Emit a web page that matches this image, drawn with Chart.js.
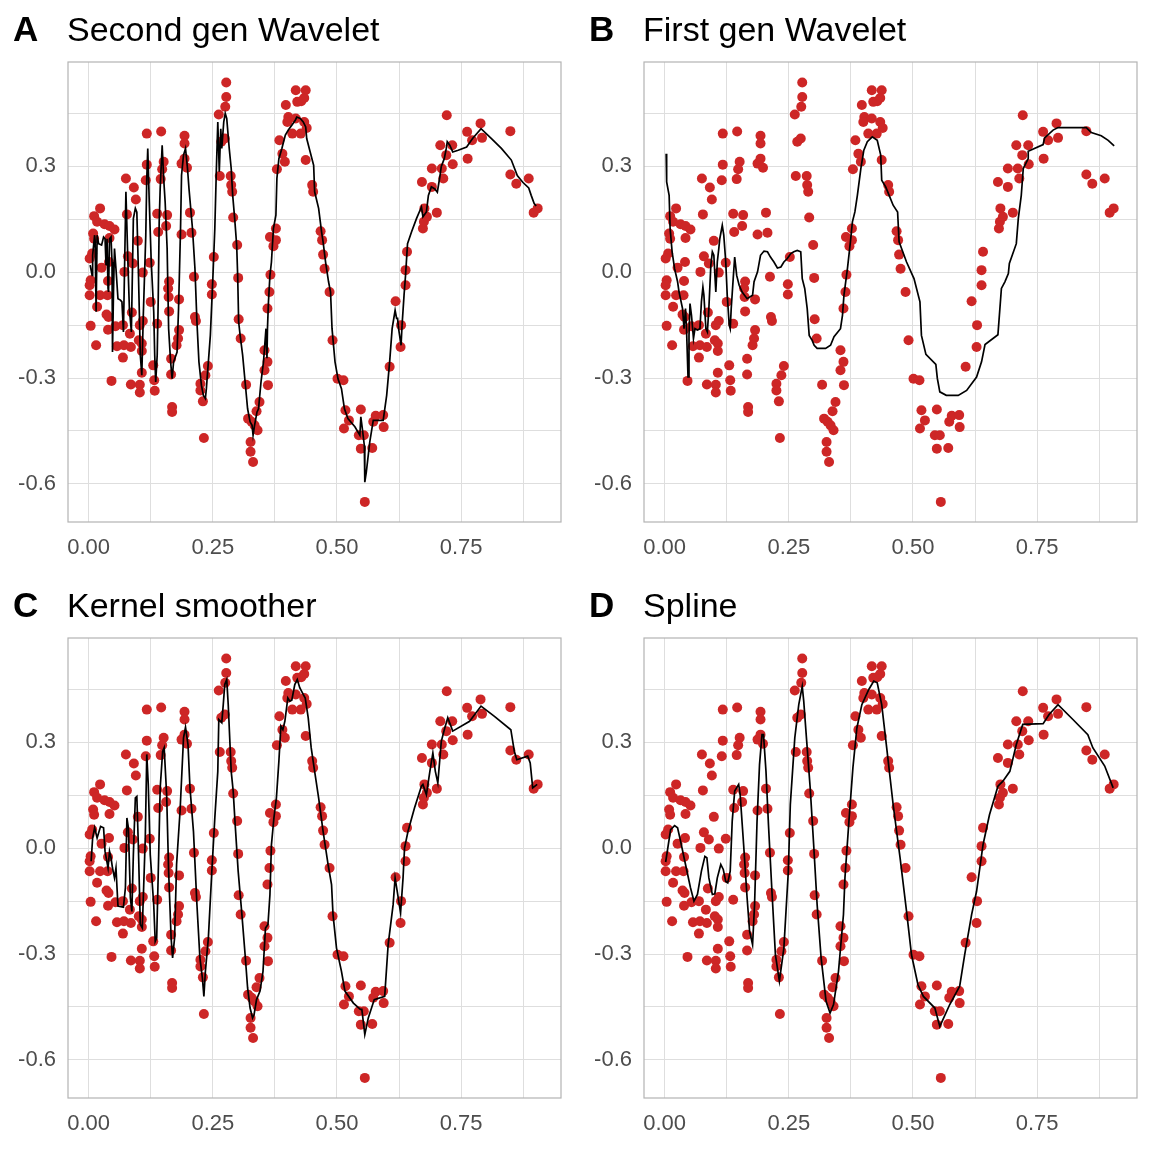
<!DOCTYPE html>
<html>
<head>
<meta charset="utf-8">
<script src="https://cdn.jsdelivr.net/npm/chart.js@4/dist/chart.umd.min.js"></script>
<style>
  html, body { margin:0; padding:0; background:#ffffff; }
  body { width:1152px; height:1152px; position:relative; overflow:hidden; font-family:"Liberation Sans", Arial, sans-serif; }
  .panel { position:absolute; width:576px; height:576px; }
  .tag { position:absolute; font-weight:bold; font-size:35px; line-height:1; color:#000; }
  .ttl { position:absolute; font-size:34px; line-height:1; color:#000; white-space:nowrap; }
</style>
</head>
<body>
<script>
// ---------- data ----------
const pointX = [
0.117,0.117,0.115,0.075,0.091,0.095,0.023,0.011,0.077,0.017,0.032,0.042,0.052,0.042,0.009,0.011,0.138,0.140,0.099,0.007,
0.002,0.041,0.079,0.089,0.123,0.072,0.109,0.026,0.004,0.039,0.002,0.002,0.023,0.038,0.017,0.125,0.087,0.036,0.040,0.004,
0.039,0.054,0.069,0.109,0.103,0.138,0.083,0.101,0.107,0.107,0.015,0.057,0.071,0.085,0.069,0.130,0.107,0.132,0.046,0.085,
0.103,0.103,0.133,
0.146,0.151,0.148,0.145,0.158,0.156,0.162,0.160,0.161,0.162,0.182,0.182,0.180,0.177,0.166,0.166,0.168,0.168,0.193,0.193,
0.193,0.187,0.198,0.204,0.207,0.187,0.212,0.214,0.216,0.240,0.235,0.225,0.225,0.230,0.232,
0.277,0.277,0.275,0.262,0.267,0.274,0.264,0.286,0.287,0.289,0.291,0.299,0.301,0.302,0.306,0.252,0.248,0.248,
0.317,0.321,0.328,0.334,0.340,0.344,0.338,0.326,0.326,0.331,0.354,0.360,0.354,0.361,0.360,0.364,0.366,
0.377,0.365,0.377,0.372,0.417,0.437,0.397,0.420,0.428,0.434,0.402,0.400,0.417,0.410,0.434,0.439,0.427,0.384,0.390,0.395,
0.379,0.437,0.450,0.452,0.467,0.470,0.472,0.475,0.485,0.491,0.501,0.513,0.517,0.524,0.514,0.548,0.544,0.554,0.548,0.571,
0.573,0.578,0.593,0.594,0.556,0.606,0.628,0.629,0.618,0.638,0.638,0.641,0.673,0.675,0.676,0.681,0.701,0.671,0.691,0.691,
0.711,0.714,0.708,0.720,0.732,0.733,0.721,0.763,0.762,0.772,0.789,0.792,0.849,0.849,0.861,0.886,0.896,0.904
];
const pointY = [
0.393,0.305,0.261,0.266,0.240,0.206,0.181,0.159,0.164,0.143,0.136,0.131,0.121,0.097,0.110,0.095,0.166,0.114,0.089,0.053,
0.039,0.029,0.045,0.025,0.027,0.001,-0.001,0.013,-0.023,-0.025,-0.037,-0.065,-0.065,-0.065,-0.098,-0.084,-0.114,-0.120,-0.127,-0.152,
-0.163,-0.153,-0.150,-0.138,-0.150,-0.146,-0.174,-0.193,-0.202,-0.223,-0.207,-0.210,-0.207,-0.212,-0.242,-0.264,-0.285,-0.306,-0.308,-0.318,
-0.319,-0.341,-0.336,
0.399,0.313,0.292,0.264,0.162,0.131,-0.026,-0.046,-0.070,-0.111,-0.077,-0.164,-0.188,-0.207,-0.245,-0.290,-0.382,-0.396,0.387,0.365,
0.322,0.308,0.296,0.169,0.112,0.107,-0.013,-0.127,-0.138,-0.266,-0.292,-0.316,-0.335,-0.366,-0.470,
0.538,0.497,0.469,0.447,0.370,0.379,0.273,0.273,0.247,0.228,0.155,0.077,-0.016,-0.133,-0.188,0.043,-0.034,-0.063,
-0.319,-0.415,-0.424,-0.434,-0.448,-0.368,-0.394,-0.481,-0.509,-0.538,-0.221,-0.254,-0.278,-0.320,-0.103,-0.056,-0.007,
0.124,0.100,0.091,0.074,0.516,0.516,0.474,0.483,0.485,0.494,0.440,0.426,0.436,0.393,0.426,0.409,0.393,0.374,0.336,0.313,
0.292,0.318,0.247,0.228,0.116,0.091,0.050,0.010,-0.056,-0.193,-0.302,-0.306,-0.391,-0.420,-0.443,-0.389,-0.462,-0.462,-0.500,-0.498,
-0.424,-0.407,-0.405,-0.439,-0.651,-0.268,-0.212,-0.150,-0.082,-0.037,0.006,0.058,0.124,0.143,0.181,0.157,0.169,0.256,0.242,0.294,
0.294,0.266,0.360,0.332,0.360,0.306,0.445,0.322,0.398,0.374,0.422,0.381,0.400,0.277,0.251,0.266,0.169,0.181
];

// Panel A: second generation wavelet fit
const lineAX = [0.003,0.007,0.008,0.012,0.013,0.015,0.017,0.020,0.026,0.030,0.033,0.035,0.037,0.039,0.040,0.042,0.045,0.047,0.048,0.050,
0.052,0.055,0.059,0.064,0.067,0.070,0.075,0.079,0.082,0.086,0.090,0.094,0.097,0.100,0.104,0.107,0.110,0.115,0.117,0.119,
0.122,0.126,0.131,0.133,0.135,0.138,0.140,0.142,0.144,0.148,0.151,0.154,0.158,0.161,0.165,0.168,0.171,0.178,0.181,0.185,
0.187,0.191,0.195,0.199,0.202,0.209,0.214,0.218,0.222,0.227,0.231,0.235,0.237,0.245,0.250,0.254,0.257,0.260,0.263,0.266,
0.268,0.272,0.275,0.278,0.283,0.287,0.290,0.294,0.298,0.300,0.302,0.305,0.310,0.315,0.320,0.325,0.329,0.331,0.334,0.339,
0.342,0.347,0.352,0.357,0.359,0.360,0.362,0.365,0.368,0.372,0.377,0.379,0.383,0.389,0.396,0.402,0.409,0.416,0.419,0.426,
0.432,0.437,0.439,0.446,0.453,0.455,0.463,0.469,0.472,0.477,0.483,0.487,0.490,0.496,0.502,0.509,0.515,0.522,0.536,0.546,
0.548,0.551,0.555,0.556,0.559,0.566,0.573,0.593,0.600,0.606,0.611,0.617,0.620,0.622,0.624,0.629,0.631,0.635,0.638,0.642,
0.650,0.660,0.670,0.673,0.680,0.684,0.690,0.697,0.702,0.707,0.710,0.716,0.720,0.722,0.727,0.733,0.744,0.761,0.773,0.790,
0.811,0.831,0.851,0.863,0.874,0.886,0.891,0.897,0.901];
const lineAY = [0.020,-0.009,0.048,0.105,0.090,-0.112,0.105,0.081,0.077,0.100,0.095,0.020,0.095,-0.046,-0.056,0.095,0.100,0.029,-0.226,-0.056,
0.067,0.010,-0.075,-0.079,-0.084,-0.169,0.228,0.029,-0.103,-0.169,0.152,0.181,0.170,0.010,-0.235,-0.292,-0.122,0.105,0.266,0.351,
0.199,0.029,-0.112,-0.235,-0.311,-0.235,-0.084,0.143,0.237,0.360,0.266,0.199,0.067,-0.160,-0.254,-0.302,-0.254,-0.226,-0.103,0.124,
0.275,0.332,0.351,0.294,0.237,0.124,0.010,-0.141,-0.254,-0.320,-0.349,-0.358,-0.330,-0.179,-0.018,0.124,0.285,0.426,0.285,0.407,
0.351,0.426,0.450,0.436,0.351,0.294,0.218,0.152,0.077,-0.009,-0.141,-0.179,-0.235,-0.311,-0.387,-0.424,-0.434,-0.462,-0.434,-0.396,
-0.387,-0.311,-0.254,-0.160,-0.244,-0.160,-0.084,-0.009,0.029,0.124,0.162,0.266,0.322,0.351,0.389,0.403,0.417,0.431,0.440,0.436,
0.426,0.412,0.379,0.341,0.303,0.228,0.181,0.114,0.086,0.029,-0.027,-0.056,-0.160,-0.254,-0.302,-0.330,-0.387,-0.415,-0.438,-0.462,
-0.410,-0.443,-0.491,-0.595,-0.567,-0.481,-0.420,-0.420,-0.349,-0.254,-0.160,-0.108,-0.131,-0.131,-0.160,-0.207,-0.150,-0.065,-0.009,0.081,
0.114,0.152,0.185,0.157,0.171,0.218,0.242,0.236,0.227,0.270,0.300,0.322,0.351,0.370,0.360,0.341,0.346,0.355,0.379,0.407,
0.379,0.351,0.318,0.274,0.255,0.239,0.218,0.195,0.188];

// Panel B: first generation wavelet fit
const lineBX = [0.003,0.004,0.009,0.011,0.015,0.020,0.026,0.029,0.036,0.039,0.042,0.044,0.047,0.049,0.051,0.054,0.058,0.061,0.066,0.071,
0.074,0.077,0.079,0.083,0.086,0.089,0.093,0.096,0.099,0.103,0.106,0.109,0.111,0.116,0.119,0.123,0.126,0.130,0.132,0.134,
0.138,0.141,0.145,0.150,0.156,0.166,0.177,0.180,0.187,0.193,0.200,0.207,0.213,0.220,0.227,0.234,0.240,0.247,0.254,0.260,
0.267,0.274,0.277,0.282,0.287,0.291,0.297,0.301,0.307,0.324,0.334,0.341,0.354,0.358,0.361,0.368,0.374,0.378,0.383,0.388,
0.395,0.401,0.408,0.418,0.428,0.435,0.437,0.445,0.452,0.460,0.469,0.472,0.487,0.502,0.514,0.517,0.526,0.546,0.549,0.554,
0.567,0.591,0.608,0.628,0.638,0.645,0.671,0.678,0.685,0.692,0.694,0.708,0.712,0.718,0.722,0.732,0.732,0.762,0.765,0.782,
0.792,0.849,0.859,0.879,0.893,0.905];
const lineBY = [0.336,0.256,0.218,0.124,0.058,0.010,-0.027,-0.056,-0.103,-0.160,-0.103,-0.160,-0.297,-0.179,-0.089,-0.122,-0.188,-0.160,-0.164,-0.160,
-0.084,-0.042,-0.065,-0.160,-0.169,-0.103,0.020,0.058,0.048,-0.056,0.029,0.067,0.095,0.133,0.105,0.029,-0.065,-0.150,-0.160,-0.103,
-0.018,0.043,-0.009,-0.037,-0.056,-0.075,-0.065,-0.027,0.001,0.048,0.060,0.058,0.043,0.029,0.012,0.015,0.029,0.039,0.053,0.058,
0.062,0.058,-0.018,-0.046,-0.103,-0.179,-0.193,-0.207,-0.216,-0.216,-0.207,-0.183,-0.160,-0.122,-0.065,0.010,0.086,0.143,0.171,0.218,
0.294,0.346,0.370,0.384,0.374,0.332,0.261,0.242,0.218,0.190,0.171,0.086,0.029,-0.018,-0.084,-0.179,-0.233,-0.261,-0.301,-0.339,
-0.349,-0.349,-0.335,-0.297,-0.254,-0.205,-0.177,-0.046,-0.027,-0.004,0.025,0.081,0.152,0.218,0.294,0.322,0.343,0.362,0.381,0.403,
0.410,0.410,0.396,0.387,0.374,0.358];

// Panel C: kernel smoother fit
const lineCX = [0.005,0.008,0.012,0.017,0.024,0.030,0.033,0.039,0.042,0.045,0.048,0.052,0.055,0.059,0.070,0.074,0.077,0.080,0.084,0.087,
0.090,0.094,0.097,0.100,0.104,0.108,0.114,0.117,0.120,0.124,0.131,0.134,0.137,0.141,0.144,0.149,0.152,0.157,0.161,0.166,
0.169,0.173,0.177,0.184,0.191,0.195,0.200,0.204,0.211,0.218,0.224,0.229,0.232,0.235,0.241,0.248,0.254,0.260,0.262,0.268,
0.271,0.274,0.278,0.281,0.287,0.291,0.295,0.301,0.308,0.315,0.320,0.325,0.330,0.333,0.338,0.345,0.351,0.356,0.361,0.365,
0.368,0.373,0.378,0.383,0.387,0.391,0.395,0.401,0.405,0.409,0.415,0.420,0.425,0.432,0.436,0.442,0.448,0.455,0.463,0.472,
0.482,0.489,0.492,0.499,0.509,0.516,0.533,0.547,0.550,0.556,0.563,0.575,0.596,0.603,0.613,0.617,0.628,0.633,0.636,0.643,
0.656,0.670,0.673,0.680,0.687,0.693,0.698,0.703,0.710,0.717,0.723,0.733,0.767,0.790,0.817,0.850,0.857,0.862,0.884,0.889,
0.894,0.903];
const lineCY = [-0.037,0.029,0.058,0.029,0.062,0.058,-0.009,-0.056,-0.009,-0.027,-0.056,-0.084,-0.056,-0.164,-0.167,-0.112,0.086,0.058,-0.141,-0.179,
-0.018,0.143,0.147,0.010,-0.216,-0.226,0.029,0.266,0.181,-0.018,-0.160,-0.264,-0.254,-0.018,0.171,0.275,0.285,0.152,-0.065,-0.254,
-0.311,-0.254,-0.046,0.105,0.313,0.343,0.294,0.171,0.048,-0.160,-0.311,-0.368,-0.420,-0.349,-0.254,-0.065,0.086,0.218,0.365,0.356,
0.407,0.464,0.478,0.407,0.218,0.162,0.067,-0.065,-0.179,-0.302,-0.396,-0.453,-0.481,-0.472,-0.429,-0.405,-0.349,-0.226,-0.216,-0.131,
0.010,0.086,0.143,0.247,0.346,0.336,0.360,0.426,0.417,0.420,0.464,0.478,0.455,0.436,0.426,0.370,0.285,0.218,0.143,0.048,
-0.046,-0.103,-0.188,-0.283,-0.349,-0.405,-0.439,-0.457,-0.457,-0.528,-0.481,-0.429,-0.420,-0.273,-0.160,-0.084,-0.183,-0.084,0.001,0.048,
0.114,0.176,0.181,0.152,0.218,0.270,0.218,0.185,0.303,0.341,0.370,0.332,0.360,0.403,0.374,0.336,0.275,0.251,0.261,0.242,
0.171,0.181];

// Panel D: spline fit
const lineDX = [0.002,0.012,0.020,0.026,0.032,0.042,0.052,0.059,0.066,0.074,0.081,0.085,0.089,0.096,0.101,0.106,0.113,0.118,0.123,0.127,
0.132,0.136,0.141,0.149,0.152,0.159,0.166,0.171,0.177,0.181,0.186,0.191,0.196,0.199,0.204,0.209,0.216,0.223,0.231,0.240,
0.249,0.253,0.262,0.270,0.277,0.280,0.286,0.293,0.300,0.307,0.315,0.325,0.333,0.340,0.350,0.360,0.363,0.371,0.379,0.387,
0.397,0.411,0.421,0.428,0.437,0.447,0.460,0.474,0.487,0.497,0.510,0.521,0.544,0.554,0.574,0.594,0.604,0.618,0.628,0.641,
0.654,0.671,0.681,0.695,0.708,0.721,0.762,0.774,0.792,0.822,0.852,0.862,0.886,0.903];
const lineDY = [-0.039,0.053,0.064,0.058,0.020,-0.046,-0.112,-0.150,-0.131,-0.065,-0.023,-0.027,-0.084,-0.131,-0.129,-0.084,-0.046,-0.060,-0.094,-0.098,
-0.065,0.077,0.162,0.181,0.152,0.010,-0.141,-0.235,-0.273,-0.160,0.077,0.237,0.322,0.322,0.218,0.067,-0.122,-0.302,-0.377,-0.283,
-0.065,0.124,0.313,0.407,0.459,0.417,0.303,0.171,0.010,-0.160,-0.311,-0.434,-0.467,-0.443,-0.349,-0.188,-0.084,0.077,0.228,0.341,
0.407,0.450,0.474,0.469,0.407,0.285,0.124,-0.027,-0.179,-0.302,-0.387,-0.420,-0.453,-0.505,-0.443,-0.391,-0.302,-0.188,-0.122,0.010,
0.095,0.176,0.190,0.218,0.294,0.351,0.353,0.379,0.407,0.365,0.322,0.285,0.233,0.171];

const panelTags = ['A','B','C','D'];
const panelTitles = ['Second gen Wavelet','First gen Wavelet','Kernel smoother','Spline'];
const xTickVals = [0,0.125,0.25,0.375,0.5,0.625,0.75,0.875];
const xTickLabels = ['0.00','','0.25','','0.50','','0.75',''];
const yTickVals = [-0.6,-0.45,-0.3,-0.15,0,0.15,0.3,0.45];
const yTickLabels = ['-0.6','','-0.3','','0.0','','0.3',''];

// ---------- build ----------
const lines = [[lineAX,lineAY],[lineBX,lineBY],[lineCX,lineCY],[lineDX,lineDY]];
const scatterData = pointX.map((x,i)=>({x:x, y:pointY[i]}));

const borderPlugin = {
  id:'panelBorder',
  afterDraw(chart){
    const a = chart.chartArea, c = chart.ctx;
    c.save();
    c.strokeStyle = '#B3B3B3';
    c.lineWidth = 1.2;
    c.strokeRect(a.left, a.top, a.right-a.left, a.bottom-a.top);
    c.restore();
  }
};

const tickFont = {family:'"Liberation Sans", Arial, sans-serif', size:22};

for (let p=0; p<4; p++){
  const left = (p%2)*576, top = Math.floor(p/2)*576;
  const div = document.createElement('div');
  div.className = 'panel';
  div.style.left = left+'px'; div.style.top = top+'px';
  const cv = document.createElement('canvas');
  cv.width = 576; cv.height = 576;
  cv.style.width = '576px'; cv.style.height = '576px';
  div.appendChild(cv);
  document.body.appendChild(div);

  const tag = document.createElement('div');
  tag.className = 'tag'; tag.textContent = panelTags[p];
  tag.style.left = (left+13)+'px'; tag.style.top = (top+11)+'px';
  document.body.appendChild(tag);
  const ttl = document.createElement('div');
  ttl.className = 'ttl'; ttl.textContent = panelTitles[p];
  ttl.style.left = (left+67)+'px'; ttl.style.top = (top+12)+'px';
  document.body.appendChild(ttl);

  const lx = lines[p][0], ly = lines[p][1];
  new Chart(cv.getContext('2d'), {
    type:'scatter',
    data:{ datasets:[
      { type:'line', data: lx.map((x,i)=>({x:x,y:ly[i]})), borderColor:'#000000', borderWidth:1.7,
        pointRadius:0, fill:false, tension:0, order:0 },
      { type:'scatter', data: scatterData, backgroundColor:'#CD2626', borderWidth:0,
        pointRadius:5, pointHoverRadius:5, order:1 }
    ]},
    options:{
      responsive:false, animation:false, devicePixelRatio:1,
      layout:{ padding:{ top:62, right:15, bottom:0, left:0 } },
      plugins:{ legend:{display:false}, tooltip:{enabled:false}, title:{display:false} },
      scales:{
        x:{ type:'linear', min:-0.0416, max:0.951,
            afterBuildTicks(s){ s.ticks = xTickVals.map(v=>({value:v})); },
            afterFit(s){ s.height = 54; },
            ticks:{ autoSkip:false, maxRotation:0, padding:13, color:'#4D4D4D', font:tickFont,
                    callback:(v,i)=>xTickLabels[i] },
            grid:{ color:'#DEDEDE', lineWidth:1, drawTicks:false },
            border:{ display:false } },
        y:{ type:'linear', min:-0.708, max:0.596,
            afterBuildTicks(s){ s.ticks = yTickVals.map(v=>({value:v})); },
            afterFit(s){ s.width = 68; },
            ticks:{ autoSkip:false, padding:12, color:'#4D4D4D', font:tickFont,
                    callback:(v,i)=>yTickLabels[i] },
            grid:{ color:'#DEDEDE', lineWidth:1, drawTicks:false },
            border:{ display:false } }
      }
    },
    plugins:[borderPlugin]
  });
}
</script>
</body>
</html>
